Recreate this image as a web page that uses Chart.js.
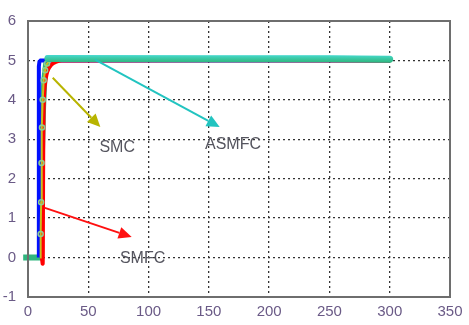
<!DOCTYPE html>
<html>
<head>
<meta charset="utf-8">
<script src="https://cdn.jsdelivr.net/npm/chart.js@4"></script>
<style>
  html, body { margin: 0; padding: 0; background: #fff; }
  #wrap { width: 469px; height: 325px; }
</style>
</head>
<body>
<div id="wrap"><canvas id="chart"></canvas></div>
<script>
// Datos
const xTicks = [0, 50, 100, 150, 200, 250, 300, 350];
const yTicks = [-1, 0, 1, 2, 3, 4, 5, 6];

const blueX = [9, 9, 9.5, 10.5, 300];
const blueY = [0, 4.85, 4.97, 5.0, 5.0];

const redX = [11.5, 12.2, 12.4, 12.6, 12.9, 13.5, 14.5, 16, 19, 23, 28, 300];
const redY = [0, -0.15, 1.0, 2.5, 3.6, 4.2, 4.5, 4.72, 4.88, 4.96, 5.0, 5.0];

const smcX = [10, 10.5, 10.9, 11.2, 11.6, 12.2, 13, 14.2, 15.8, 18, 300];
const smcY = [0, 0.6, 1.4, 2.4, 3.3, 4.0, 4.5, 4.75, 4.92, 5.0, 5.02];

const asmfcX = [-4, 10, 10.5, 11.5, 12.5, 13.5, 15, 16.5, 20, 150, 250, 300];
const asmfcY = [0, 0, 1.0, 2.6, 3.8, 4.5, 4.9, 5.05, 5.05, 5.04, 5.04, 5.03];
const asmfcTopFrom = 7; // a partir de aquí la curva va por encima de las demás

// Anotaciones (flechas y textos) en coordenadas de datos
const arrows = [
    { from: [20.5, 4.56], to: [60, 3.31], color: '#b8b400' },
    { from: [55.6, 5.02], to: [159, 3.31], color: '#22c4c0' },
    { from: [14, 1.26], to: [86, 0.52], color: '#ff1010' }
];
const labels = [
    { text: 'SMC', x: 74, y: 2.8 },
    { text: 'ASMFC', x: 170, y: 2.87 },
    { text: 'SMFC', x: 95, y: -0.02 }
];

function toPoints(xs, ys) {
    return xs.map((x, i) => ({ x: x, y: ys[i] }));
}

// degradado cian arriba, verde abajo, como en la figura
function asmfcColor(context) {
    const chart = context.chart;
    const sy = chart.scales.y;
    if (!sy || !chart.chartArea) return '#34c08e';
    const yc = sy.getPixelForValue(5.04);
    const g = chart.ctx.createLinearGradient(0, yc - 3.5, 0, yc + 3.5);
    g.addColorStop(0, '#46d8cc');
    g.addColorStop(0.4, '#3ccaa8');
    g.addColorStop(1, '#2fb67e');
    return g;
}

// Plugin para flechas, textos y marco
const annotPlugin = {
    id: 'annot',
    afterDatasetsDraw(chart) {
        const ctx = chart.ctx;
        const sx = chart.scales.x, sy = chart.scales.y;
        ctx.save();
        arrows.forEach(a => {
            const x1 = sx.getPixelForValue(a.from[0]), y1 = sy.getPixelForValue(a.from[1]);
            const x2 = sx.getPixelForValue(a.to[0]), y2 = sy.getPixelForValue(a.to[1]);
            const ang = Math.atan2(y2 - y1, x2 - x1);
            const len = 13, half = 6;
            const bx = x2 - len * Math.cos(ang), by = y2 - len * Math.sin(ang);
            ctx.strokeStyle = a.color;
            ctx.fillStyle = a.color;
            ctx.lineWidth = 2;
            ctx.beginPath();
            ctx.moveTo(x1, y1);
            ctx.lineTo(bx, by);
            ctx.stroke();
            ctx.beginPath();
            ctx.moveTo(x2, y2);
            ctx.lineTo(bx + half * Math.sin(ang), by - half * Math.cos(ang));
            ctx.lineTo(bx - half * Math.sin(ang), by + half * Math.cos(ang));
            ctx.closePath();
            ctx.fill();
        });
        ctx.fillStyle = '#55555f';
        ctx.font = '16px "Liberation Sans", Arial, sans-serif';
        ctx.textAlign = 'center';
        ctx.textBaseline = 'middle';
        labels.forEach(l => {
            ctx.fillText(l.text, sx.getPixelForValue(l.x), sy.getPixelForValue(l.y));
        });
        const area = chart.chartArea;
        ctx.strokeStyle = '#6e6e6e';
        ctx.lineWidth = 2;
        ctx.strokeRect(area.left, area.top, area.right - area.left, area.bottom - area.top);
        ctx.restore();
    }
};

const tickFont = { family: '"Liberation Sans", Arial, sans-serif', size: 15 };

const ctx = document.getElementById('chart').getContext('2d');
const chart = new Chart(ctx, {
    type: 'scatter',
    data: {
        datasets: [
            {
                label: 'ASMFC (tramo superior)',
                data: toPoints(asmfcX.slice(asmfcTopFrom), asmfcY.slice(asmfcTopFrom)),
                showLine: true,
                borderColor: asmfcColor,
                borderWidth: 7,
                borderCapStyle: 'round',
                pointRadius: 0,
                tension: 0,
                order: 0
            },
            {
                label: 'SMC',
                data: toPoints(smcX, smcY),
                showLine: true,
                borderColor: '#c8c020',
                borderWidth: 2,
                pointRadius: (c) => (c.dataIndex > 0 && c.dataIndex < 9 ? 2.5 : 0),
                pointBackgroundColor: 'rgba(0,0,0,0)',
                pointBorderColor: '#8fd08f',
                pointBorderWidth: 1.5,
                tension: 0,
                order: 1
            },
            {
                label: 'SMFC',
                data: toPoints(redX, redY),
                showLine: true,
                borderColor: '#ff0000',
                borderWidth: 4,
                pointRadius: 0,
                tension: 0.3,
                order: 2
            },
            {
                label: 'Blue',
                data: toPoints(blueX, blueY),
                showLine: true,
                borderColor: '#0010ff',
                borderWidth: 4,
                pointRadius: 0,
                tension: 0,
                order: 3
            },
            {
                label: 'ASMFC',
                data: toPoints(asmfcX, asmfcY),
                showLine: true,
                borderColor: asmfcColor,
                borderWidth: 6,
                pointRadius: 0,
                tension: 0,
                clip: { left: 10, top: 0, right: 0, bottom: 0 },
                order: 4
            }
        ]
    },
    options: {
        responsive: true,
        maintainAspectRatio: false,
        animation: false,
        layout: { padding: { left: 0, top: 14, right: 19, bottom: 0 } },
        plugins: {
            legend: { display: false },
            tooltip: { enabled: false }
        },
        scales: {
            x: {
                type: 'linear',
                min: 0,
                max: 350,
                afterBuildTicks: (s) => { s.ticks = xTicks.map(v => ({ value: v })); },
                afterFit: (s) => { s.height = 28; },
                grid: { color: '#333333', lineWidth: 1.3, drawTicks: false },
                border: { display: false, dash: [2, 3] },
                ticks: { color: '#6a5a86', font: tickFont, padding: 6, maxRotation: 0 }
            },
            y: {
                type: 'linear',
                min: -1,
                max: 6,
                afterBuildTicks: (s) => { s.ticks = yTicks.map(v => ({ value: v })); },
                afterFit: (s) => { s.width = 28; },
                grid: { color: '#333333', lineWidth: 1.3, drawTicks: false },
                border: { display: false, dash: [2, 3] },
                ticks: { color: '#6a5a86', font: tickFont, padding: 12 }
            }
        }
    },
    plugins: [annotPlugin]
});
</script>
</body>
</html>
